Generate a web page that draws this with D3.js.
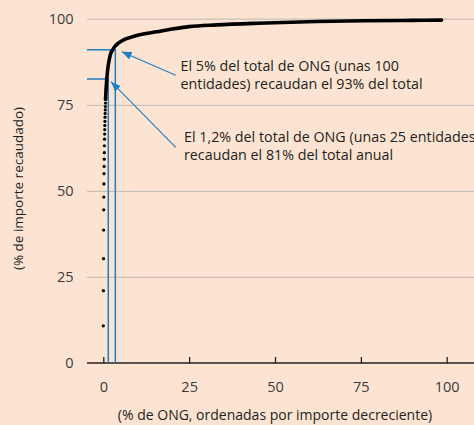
<!DOCTYPE html>
<html>
<head>
<meta charset="utf-8">
<script src="https://cdn.jsdelivr.net/npm/d3@7"></script>
<style>
  html, body { margin: 0; padding: 0; background: #fde4d2; }
  svg { display: block; }
  text { font-family: "Open Sans", "Noto Sans", sans-serif; }
</style>
</head>
<body>
<svg id="chart" width="474" height="425"></svg>
<script>
// ---- data ----
const xTicks = [0, 25, 50, 75, 100];
const yTicks = [0, 25, 50, 75, 100];

// first ONGs, shown as separate dots (x = % of ONG, y = cumulative % raised)
const dotX = [0, 0.03, 0.06, 0.09, 0.12, 0.15, 0.18, 0.21, 0.24, 0.27, 0.3, 0.33, 0.36, 0.39, 0.42, 0.45, 0.48, 0.51, 0.54, 0.57, 0.6, 0.63, 0.66];
const dotY = [10.8, 21.0, 30.3, 38.6, 44.5, 48.2, 52.0, 55.0, 57.1, 59.2, 61.1, 63.1, 65.0, 66.5, 67.8, 69.0, 70.2, 71.4, 72.5, 73.5, 74.5, 75.5, 76.6];

// rest of the curve, where the dots merge into a solid line
const curveX = [0.66, 0.8, 1.0, 1.2, 1.45, 1.8, 2.2, 2.7, 3.4, 4.4, 6.2, 8.7, 12, 15.5, 20, 25, 33, 45, 62, 76, 90, 98.5];
const curveY = [76.6, 79.5, 82.2, 84.5, 86.5, 88.5, 90.0, 90.9, 92.0, 92.9, 94.0, 94.8, 95.6, 96.2, 97.0, 97.7, 98.2, 98.7, 99.2, 99.4, 99.5, 99.6];

// reference markers (blue guide lines)
const refX = [1.45, 3.5];
const refY = [82.5, 91];

// annotations
const noteLines = [
  ["El 5% del total de ONG (unas 100", "entidades) recaudan el 93% del total"],
  ["El 1,2% del total de ONG (unas 25 entidades)", "recaudan el 81% del total anual"]
];
const noteAnchorX = [22.5, 23.5];
const noteAnchorY = [84.9, 64.3];
const arrowFromX = [21.1, 21.1];
const arrowFromY = [83.6, 62.6];
const arrowToX = [5.36, 2.24];
const arrowToY = [90.4, 81.7];

const xTitle = "(% de ONG, ordenadas por importe decreciente)";
const yTitle = "(% de importe recaudado)";

// ---- drawing ----
const W = 474, H = 425;
const svg = d3.select("#chart");
const blue = "#1f7dc2";
const ink = "#231f20";

const x = d3.scaleLinear().domain([0, 100]).range([103.3, 446.7]);
const y = d3.scaleLinear().domain([0, 100]).range([363, 18.7]);
const gridLeft = 87;

// y axis with gridlines
const yAxis = svg.append("g")
  .attr("transform", `translate(${gridLeft},0)`)
  .call(d3.axisLeft(y).tickValues(yTicks).tickSize(-(W - gridLeft)).tickPadding(13.5));
yAxis.select(".domain").remove();
yAxis.selectAll(".tick line")
  .attr("stroke", "#c9c1b9").attr("stroke-width", 1.3)
  .filter(d => d === 0).remove();
yAxis.selectAll(".tick text")
  .attr("font-size", 14.5).attr("fill", "#3a3a3a")
  .style("font-family", "'Open Sans', sans-serif");

// x axis
const xAxis = svg.append("g")
  .attr("transform", `translate(0,${y(0)})`)
  .call(d3.axisBottom(x).tickValues(xTicks).tickSize(-6).tickPadding(18.5).tickSizeOuter(0));
xAxis.select(".domain").remove();
xAxis.selectAll(".tick line").attr("stroke", ink).attr("stroke-width", 1.3);
xAxis.selectAll(".tick text")
  .attr("font-size", 14.5).attr("fill", "#3a3a3a")
  .style("font-family", "'Open Sans', sans-serif");
xAxis.append("line")
  .attr("x1", gridLeft).attr("x2", W).attr("y1", 0).attr("y2", 0)
  .attr("stroke", ink).attr("stroke-width", 1.6);

// blue reference lines
const refs = refX.map((v, i) => ({ x: v, y: refY[i] }));
svg.append("g").selectAll("path").data(refs).join("path")
  .attr("d", d => `M${gridLeft},${y(d.y)}H${x(d.x)}V${y(0)}`)
  .attr("fill", "none").attr("stroke", blue).attr("stroke-width", 1.5);

// curve
const curvePts = curveX.map((v, i) => [v, curveY[i]]);
svg.append("path")
  .datum(curvePts)
  .attr("d", d3.line().x(d => x(d[0])).y(d => y(d[1])).curve(d3.curveMonotoneX))
  .attr("fill", "none").attr("stroke", "#000").attr("stroke-width", 3.6)
  .attr("stroke-linecap", "round").attr("stroke-linejoin", "round");

// dots
const dots = dotX.map((v, i) => [v, dotY[i]]);
svg.append("g").selectAll("circle").data(dots).join("circle")
  .attr("cx", d => x(d[0])).attr("cy", d => y(d[1])).attr("r", 1.6).attr("fill", "#000");

// arrows
const defs = svg.append("defs");
defs.append("marker")
  .attr("id", "arrow").attr("viewBox", "0 0 10 8")
  .attr("refX", 10).attr("refY", 4)
  .attr("markerWidth", 10).attr("markerHeight", 8)
  .attr("markerUnits", "userSpaceOnUse").attr("orient", "auto")
  .append("path").attr("d", "M0,0L10,4L0,8Z").attr("fill", blue);

const arrows = arrowFromX.map((v, i) => ({ x1: v, y1: arrowFromY[i], x2: arrowToX[i], y2: arrowToY[i] }));
svg.append("g").selectAll("line").data(arrows).join("line")
  .attr("x1", d => x(d.x1)).attr("y1", d => y(d.y1))
  .attr("x2", d => x(d.x2)).attr("y2", d => y(d.y2))
  .attr("stroke", blue).attr("stroke-width", 1.1)
  .attr("marker-end", "url(#arrow)");

// annotation text
noteLines.forEach((lines, i) => {
  const t = svg.append("text")
    .attr("x", x(noteAnchorX[i])).attr("y", y(noteAnchorY[i]))
    .attr("font-size", 14.3).attr("fill", ink);
  lines.forEach((s, j) => {
    t.append("tspan").attr("x", x(noteAnchorX[i])).attr("dy", j === 0 ? 0 : 18.5).text(s);
  });
});

// axis titles
svg.append("text")
  .attr("x", x(50)).attr("y", 420)
  .attr("text-anchor", "middle").attr("font-size", 14).attr("fill", ink)
  .text(xTitle);
svg.append("text")
  .attr("transform", "translate(23,188.5) rotate(-90)")
  .attr("text-anchor", "middle").attr("font-size", 13.5).attr("fill", ink)
  .text(yTitle);
</script>
</body>
</html>
